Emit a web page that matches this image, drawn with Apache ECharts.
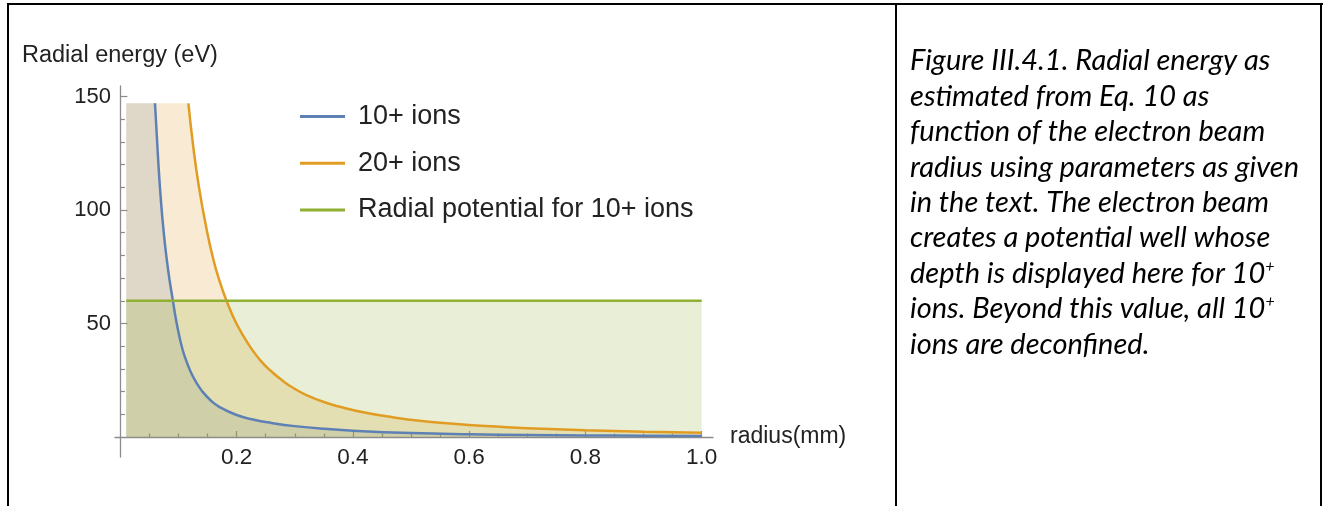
<!DOCTYPE html>
<html>
<head>
<meta charset="utf-8">
<script src="https://cdn.jsdelivr.net/npm/echarts@6/dist/echarts.min.js"></script>
<style>
html,body{margin:0;padding:0;background:#fff;}
#chart{width:1323px;height:506px;}
</style>
</head>
<body>
<div id="chart"></div>
<script>
// ---- data ----
const seriesNames = ['10+ ions', '20+ ions', 'Radial potential for 10+ ions'];

// 10+ ions curve (radius mm, energy eV); the plot is clipped at 147 eV
const ions10R = [0.01, 0.0595, 0.065, 0.07, 0.075, 0.08, 0.085, 0.09, 0.095, 0.1, 0.105, 0.11, 0.12, 0.13, 0.14, 0.155, 0.17, 0.2, 0.23, 0.26, 0.3, 0.35, 0.4, 0.5, 0.6, 0.7, 0.8, 0.9, 1.0];
const ions10E = [147, 147, 121.9, 103.1, 88.9, 77.7, 68.4, 60.5, 52.6, 46, 40.4, 36, 29.2, 24.3, 20.4, 16.2, 13.3, 9.7, 7.6, 6.2, 4.8, 3.6, 2.8, 1.8, 1.25, 0.92, 0.7, 0.56, 0.45];

// 20+ ions curve
const ions20R = [0.01, 0.117, 0.125, 0.135, 0.1485, 0.16, 0.17, 0.183, 0.2, 0.223, 0.24, 0.257, 0.28, 0.3, 0.32, 0.35, 0.378, 0.42, 0.47, 0.5, 0.55, 0.6, 0.653, 0.7, 0.8, 0.9, 1.0];
const ions20E = [147, 147, 128.6, 110.3, 91.2, 78.1, 69.2, 59.7, 49.8, 39.8, 34.0, 29.5, 24.6, 21.2, 18.5, 15.4, 13.3, 10.8, 8.6, 7.6, 6.3, 5.3, 4.5, 3.9, 2.97, 2.35, 1.9];

// radial potential for 10+ ions
const potentialR = [0.01, 1.0];
const potentialE = [60, 60];

// tick labels / tick positions
const xTickLabels = [0.2, 0.4, 0.6, 0.8, 1.0];
const xMinorTicks = [0.05, 0.1, 0.15, 0.25, 0.3, 0.35, 0.45, 0.5, 0.55, 0.65, 0.7, 0.75, 0.85, 0.9, 0.95];
const yTickLabels = [50, 100, 150];
const yMinorTicks = [10, 20, 30, 40, 60, 70, 80, 90, 110, 120, 130, 140];

const captionLines = [
  'Figure III.4.1. Radial energy as',
  'estimated from Eq. 10 as',
  'function of the electron beam',
  'radius using parameters as given',
  'in the text. The electron beam',
  'creates a potential well whose',
  'depth is displayed here for 10{sup|+}',
  'ions. Beyond this value, all 10{sup|+}',
  'ions are deconfined.'
];

// ---- build ----
const zip = (a, b) => a.map((v, i) => [v, b[i]]);
const colors = ['#5E81B5', '#E19C24', '#8FB032'];
const axisGray = '#8c8c8c';
const labelFont = 'Liberation Sans';

const blueFill = zip(ions10R, ions10E);
const blueLine = blueFill.slice(1);
const orangeFill = zip(ions20R, ions20E);
const orangeLine = orangeFill.slice(1);
const greenData = zip(potentialR, potentialE);

const fillSeries = (data, c) => ({
  type: 'line', data: data, showSymbol: false, silent: true,
  lineStyle: { width: 0, opacity: 0 },
  areaStyle: { color: c, opacity: 0.2 },
  smooth: false, z: 1
});
const lineSeries = (name, data, c) => ({
  type: 'line', name: name, data: data, showSymbol: false,
  lineStyle: { color: c, width: 2.5 }, itemStyle: { color: c },
  smooth: 0.5, z: 3
});

const graphics = [
  { type: 'line', shape: { x1: 7, y1: 4, x2: 1323, y2: 4 }, style: { stroke: '#000', lineWidth: 2 } },
  { type: 'line', shape: { x1: 8, y1: 3, x2: 8, y2: 506 }, style: { stroke: '#000', lineWidth: 2 } },
  { type: 'line', shape: { x1: 896, y1: 3, x2: 896, y2: 506 }, style: { stroke: '#000', lineWidth: 2 } },
  { type: 'line', shape: { x1: 1321, y1: 3, x2: 1321, y2: 506 }, style: { stroke: '#000', lineWidth: 2 } },
  { type: 'text', left: 22, top: 44, style: { text: 'Radial energy (eV)', font: '23.5px "Liberation Sans"', fill: '#222' } }
];
captionLines.forEach((t, i) => {
  graphics.push({
    type: 'text', x: 910, y: 61 + 35.4 * i,
    style: {
      text: t, fill: '#000', verticalAlign: 'middle', align: 'left',
      fontFamily: 'Lato', fontStyle: 'italic', fontSize: 29,
      rich: { sup: { fontFamily: 'Lato', fontStyle: 'italic', fontSize: 16, verticalAlign: 'top', fill: '#000' } }
    }
  });
});

const option = {
  animation: false,
  backgroundColor: '#fff',
  grid: { left: 115, top: 86, width: 598, height: 371, containLabel: false },
  legend: {
    orient: 'vertical', left: 300, top: 103, itemGap: 19.7, padding: 0,
    itemWidth: 45, itemHeight: 3, icon: 'rect',
    data: seriesNames,
    textStyle: { fontSize: 27, fontFamily: labelFont, color: '#222', padding: [0, 0, 0, 8] }
  },
  xAxis: [{
    type: 'value', min: -0.0093, max: 1.0195,
    axisLine: { onZero: true, lineStyle: { color: axisGray, width: 1.3 } },
    axisTick: { show: true, inside: true, length: 6, customValues: xTickLabels, lineStyle: { color: axisGray, width: 1.2 } },
    axisLabel: { customValues: xTickLabels, formatter: v => Number(v).toFixed(1), fontSize: 22.5, fontFamily: labelFont, color: '#222', margin: -11 },
    splitLine: { show: false },
    name: 'radius(mm)', nameLocation: 'end', nameGap: 17,
    nameTextStyle: { fontSize: 23, fontFamily: labelFont, color: '#222', align: 'left', verticalAlign: 'middle' }
  }, {
    type: 'value', min: -0.0093, max: 1.0195, position: 'bottom',
    axisLine: { show: true, onZero: true, lineStyle: { opacity: 0 } },
    axisTick: { show: true, inside: true, length: 3.5, customValues: xMinorTicks, lineStyle: { color: axisGray, width: 1.2 } },
    axisLabel: { show: false }, splitLine: { show: false }
  }],
  yAxis: [{
    type: 'value', min: -8.8, max: 154.6,
    axisLine: { show: true, onZero: true, lineStyle: { color: axisGray, width: 1.3 } },
    axisTick: { show: true, inside: true, length: 7, customValues: yTickLabels, lineStyle: { color: axisGray, width: 1.2 } },
    axisLabel: { customValues: yTickLabels, fontSize: 22, fontFamily: labelFont, color: '#222', margin: 4 },
    splitLine: { show: false }
  }, {
    type: 'value', min: -8.8, max: 154.6, position: 'left',
    axisLine: { show: true, onZero: true, lineStyle: { opacity: 0 } },
    axisTick: { show: true, inside: true, length: 4.5, customValues: yMinorTicks, lineStyle: { color: axisGray, width: 1.2 } },
    axisLabel: { show: false }, splitLine: { show: false }
  }],
  series: [
    fillSeries(blueFill, colors[0]),
    fillSeries(orangeFill, colors[1]),
    fillSeries(greenData, colors[2]),
    lineSeries(seriesNames[0], blueLine, colors[0]),
    lineSeries(seriesNames[1], orangeLine, colors[1]),
    Object.assign(lineSeries(seriesNames[2], greenData, colors[2]), { smooth: false })
  ],
  graphic: graphics
};

const chart = echarts.init(document.getElementById('chart'), null, { renderer: 'canvas' });
chart.setOption(option);
</script>
</body>
</html>
